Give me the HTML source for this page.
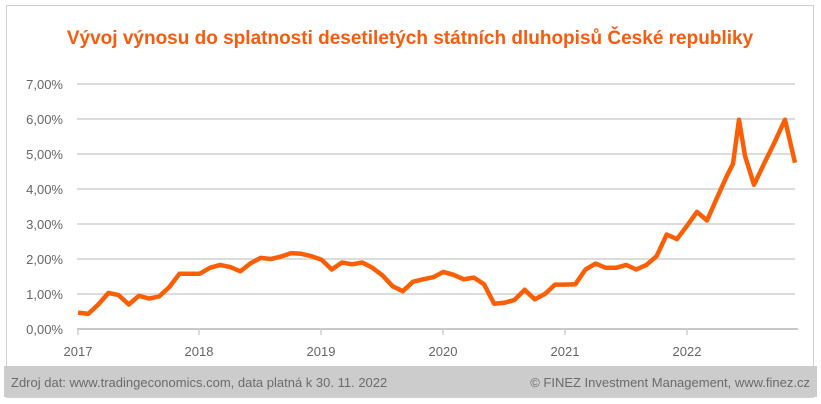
<!DOCTYPE html>
<html><head><meta charset="utf-8"><style>
body{margin:0;background:#fff;}
svg{display:block;font-family:"Liberation Sans",sans-serif;}
</style></head><body>
<svg width="821" height="404" viewBox="0 0 821 404">
<rect x="0" y="0" width="821" height="404" fill="#fff"/>
<rect x="6.5" y="5.5" width="807" height="392" fill="#fff" stroke="#d0d0d0"/>
<rect x="4" y="366" width="813" height="31" fill="#cccccc"/>
<text x="410" y="44" text-anchor="middle" font-size="19" font-weight="bold" fill="#f95b0c">Vývoj výnosu do splatnosti desetiletých státních dluhopisů České republiky</text>
<g stroke="#d0d0d0" stroke-width="1.5">
<line x1="77" y1="84" x2="795" y2="84"/>
<line x1="77" y1="119" x2="795" y2="119"/>
<line x1="77" y1="154" x2="795" y2="154"/>
<line x1="77" y1="189" x2="795" y2="189"/>
<line x1="77" y1="224" x2="795" y2="224"/>
<line x1="77" y1="259" x2="795" y2="259"/>
<line x1="77" y1="294" x2="795" y2="294"/>
<line x1="77" y1="329" x2="798" y2="329" stroke="#c8c8c8" stroke-width="2"/>
<line x1="78" y1="329" x2="78" y2="335"/><line x1="199" y1="329" x2="199" y2="335"/>
<line x1="321" y1="329" x2="321" y2="335"/><line x1="443" y1="329" x2="443" y2="335"/>
<line x1="565" y1="329" x2="565" y2="335"/><line x1="687" y1="329" x2="687" y2="335"/>
</g>
<g font-size="13" fill="#666" text-anchor="end">
<text x="63" y="89">7,00%</text><text x="63" y="124">6,00%</text><text x="63" y="159">5,00%</text>
<text x="63" y="194">4,00%</text><text x="63" y="229">3,00%</text><text x="63" y="264">2,00%</text>
<text x="63" y="299">1,00%</text><text x="63" y="334">0,00%</text>
</g>
<g font-size="13" fill="#666" text-anchor="middle">
<text x="78" y="356">2017</text><text x="199" y="356">2018</text><text x="321" y="356">2019</text>
<text x="443" y="356">2020</text><text x="565" y="356">2021</text><text x="687" y="356">2022</text>
</g>
<polyline id="ln" fill="none" stroke="#fa5f05" stroke-width="4.5" stroke-linejoin="round" points=""/>
<text x="11" y="387" font-size="13" fill="#6b6b6b">Zdroj dat: www.tradingeconomics.com, data platná k 30. 11. 2022</text>
<text x="810" y="387" font-size="13" fill="#6b6b6b" text-anchor="end">© FINEZ Investment Management, www.finez.cz</text>
</svg>
<script>
var d=[0.47,0.43,0.7,1.03,0.97,0.7,0.95,0.87,0.93,1.2,1.58,1.58,
1.58,1.75,1.83,1.77,1.65,1.88,2.03,2.0,2.07,2.17,2.15,2.08,
1.98,1.7,1.9,1.85,1.9,1.75,1.53,1.22,1.08,1.35,1.42,1.48,
1.63,1.55,1.42,1.47,1.28,0.72,0.75,0.83,1.12,0.85,1.0,1.27,
1.27,1.28,1.7,1.87,1.75,1.75,1.83,1.7,1.83,2.08,2.7,2.57,
2.95,3.35,3.1,3.75,4.38,4.72,5.98,4.95,4.12,4.72,5.3,5.98,4.75];
var xs22=[687,697,707,717,727,733,739,745,754,764,774,785,795];
var p=[];for(var i=0;i<d.length;i++){var x=i<60?78+i*10.15:xs22[i-60];p.push(x.toFixed(1)+","+(329-d[i]*35).toFixed(1));}
document.getElementById("ln").setAttribute("points",p.join(" "));
</script>
</body></html>
